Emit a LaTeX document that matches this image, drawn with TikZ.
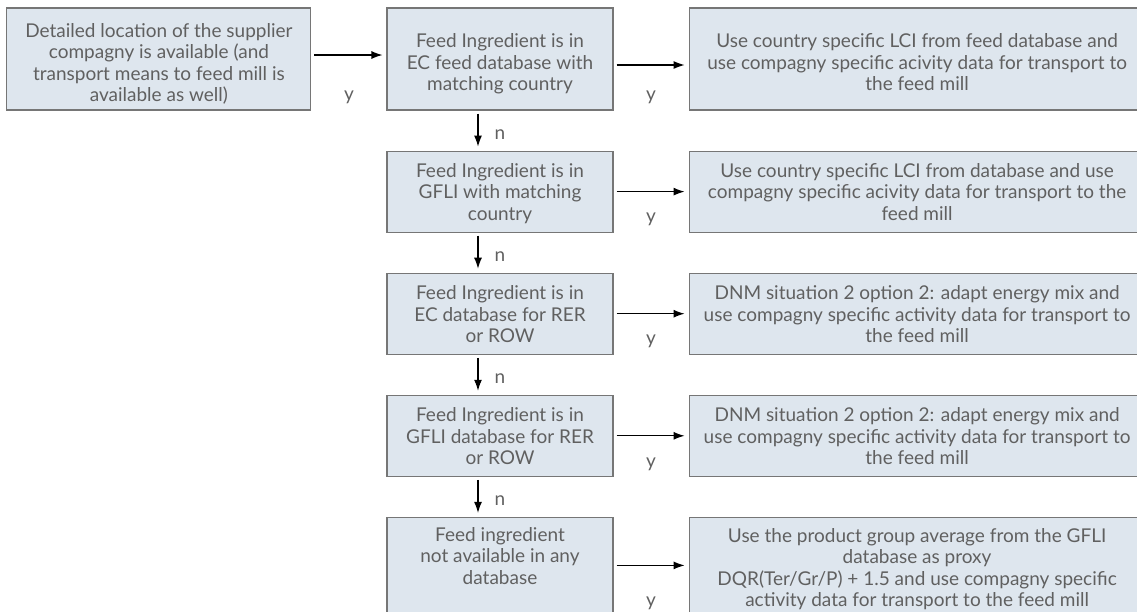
\documentclass[tikz,border=0pt]{standalone}
\usepackage{fontspec}
\setmainfont{Lato}
\usepackage{tikz}
\usetikzlibrary{positioning}
\usetikzlibrary{calc}
\usetikzlibrary{arrows.meta}

\definecolor{boxfill}{RGB}{222,230,238}
\definecolor{boxline}{RGB}{118,118,118}
\definecolor{boxtext}{RGB}{96,96,96}

% box text, lowered by #1 inside its box
\newcommand{\boxlines}[2][3pt]{%
  \raisebox{-#1}[\height][\depth]{\begin{tabular}{@{}c@{}}#2\end{tabular}}}

\tikzset{
  box/.style = {draw=boxline, fill=boxfill, line width=1.1pt, text=boxtext,
    inner sep=0pt, font=\fontsize{19}{21.5}\selectfont},
  flow/.style = {-{Latex[length=11pt,width=8pt]}, line width=1.1pt,
    shorten <=3pt, shorten >=4pt},
  answer/.style = {text=boxtext, font=\fontsize{19}{21.5}\selectfont},
}

\begin{document}
\begin{tikzpicture}[x=1pt, y=-1pt]
\useasboundingbox (0,0) rectangle (1137,611);
\clip (0,0) rectangle (1137,611);

\node[box, minimum width=226pt, minimum height=102pt] (cond0) at (500,59)
  {\boxlines[6pt]{Feed Ingredient is in\\EC feed database with\\matching country}};
\node[box, minimum width=226pt, minimum height=81pt, below=40pt of cond0] (cond1)
  {\boxlines{Feed Ingredient is in\\GFLI with matching\\country}};
\node[box, minimum width=226pt, minimum height=81pt, below=40pt of cond1] (cond2)
  {\boxlines{Feed Ingredient is in\\EC database for RER\\or ROW}};
\node[box, minimum width=226pt, minimum height=81pt, below=40pt of cond2] (cond3)
  {\boxlines{Feed Ingredient is in\\GFLI database for RER\\or ROW}};
\node[box, minimum width=226pt, minimum height=102pt, below=40pt of cond3] (cond4)
  {\boxlines[-10pt]{Feed ingredient\\not available in any\\database}};

\node[box, minimum width=304pt, minimum height=102pt, left=75pt of cond0] (start)
  {\boxlines[6pt]{Detailed location of the supplier\\compagny is available (and\\transport means to feed mill is\\available as well)}};

\node[box, minimum width=456pt, minimum height=102pt, right=75pt of cond0] (act0)
  {\boxlines[6pt]{Use country specific LCI from feed database and\\use compagny specific acivity data for transport to\\the feed mill}};
\node[box, minimum width=456pt, minimum height=81pt, right=75pt of cond1] (act1)
  {\boxlines{Use country specific LCI from database and use\\compagny specific acivity data for transport to the\\feed mill}};
\node[box, minimum width=456pt, minimum height=81pt, right=75pt of cond2] (act2)
  {\boxlines{DNM situation 2 option 2: adapt energy mix and\\use compagny specific activity data for transport to\\the feed mill}};
\node[box, minimum width=456pt, minimum height=81pt, right=75pt of cond3] (act3)
  {\boxlines{DNM situation 2 option 2: adapt energy mix and\\use compagny specific activity data for transport to\\the feed mill}};
\node[box, minimum width=456pt, minimum height=102pt, right=75pt of cond4] (act4)
  {\boxlines[2pt]{Use the product group average from the GFLI\\database as proxy\\DQR(Ter/Gr/P) + 1.5 and use compagny specific\\activity data for transport to the feed mill}};

\node[answer] (yes) at ($(start.south east)!0.5!(cond0.south west)+(0,-13)$) {y};
\node[answer] (yes0) at ($(cond0.south east)!0.5!(act0.south west)+(0,-13)$) {y};
\node[answer] (yes1) at ($(cond1.south east)!0.5!(act1.south west)+(0,-13)$) {y};
\node[answer] (yes2) at ($(cond2.south east)!0.5!(act2.south west)+(0,-13)$) {y};
\node[answer] (yes3) at ($(cond3.south east)!0.5!(act3.south west)+(0,-13)$) {y};
\node[answer] (yes4) at ($(cond4.south east)!0.5!(act4.south west)+(0,-17)$) {y};

\node[answer] (no1) at ($(cond0.south)!0.5!(cond1.north)+(0,4)$) {n};
\node[answer] (no2) at ($(cond1.south)!0.5!(cond2.north)+(0,4)$) {n};
\node[answer] (no3) at ($(cond2.south)!0.5!(cond3.north)+(0,4)$) {n};
\node[answer] (no4) at ($(cond3.south)!0.5!(cond4.north)+(0,4)$) {n};

\draw[flow] ([yshift=4pt]start.east) -- ([yshift=4pt]cond0.west);
\draw[flow] ([yshift=-6pt]cond0.east) -- ([yshift=-6pt]act0.west);
\draw[flow] (cond1.east) -- (act1.west);
\draw[flow] (cond2.east) -- (act2.west);
\draw[flow] (cond3.east) -- (act3.west);
\draw[flow] ([yshift=3pt]cond4.east) -- ([yshift=3pt]act4.west);

\draw[flow] ([xshift=-22pt]cond0.south) -- ([xshift=-22pt]cond1.north);
\draw[flow] ([xshift=-22pt]cond1.south) -- ([xshift=-22pt]cond2.north);
\draw[flow] ([xshift=-22pt]cond2.south) -- ([xshift=-22pt]cond3.north);
\draw[flow] ([xshift=-22pt]cond3.south) -- ([xshift=-22pt]cond4.north);
\end{tikzpicture}
\end{document}
